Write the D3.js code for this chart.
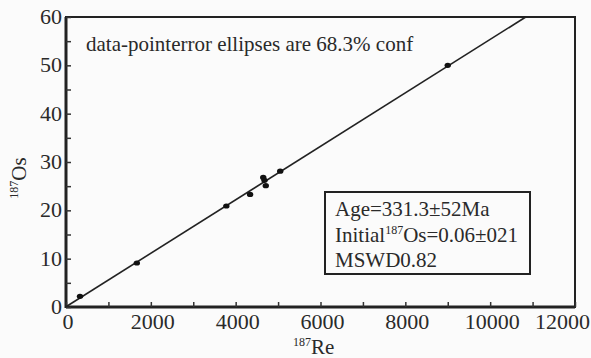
<!DOCTYPE html>
<html lang="en">
<head>
<meta charset="UTF-8">
<title>Re-Os isochron</title>
<style>
body{margin:0;background:#fbfbfb;}
svg text{font-family:"Liberation Serif","DejaVu Serif",serif;fill:#2a2a2a;}
</style>
</head>
<body>
<script src="https://d3js.org/d3.v7.min.js"></script>
<script>
var width = 591, height = 358;
// data points (187Re, 187Os)
var reVals = [330, 1670, 3780, 4340, 4650, 4680, 4710, 5050, 9000];
var osVals = [2.2, 9.1, 20.9, 23.3, 26.8, 26.2, 25.1, 28.1, 50.0];
var slope = 0.00553, intercept = 0.06;
var xTicks = [0, 2000, 4000, 6000, 8000, 10000, 12000];
var yTicks = [0, 10, 20, 30, 40, 50, 60];
var resultLines = ["Age=331.3\u00b152Ma", "Initial", "MSWD0.82"];

var padding = {left: 66, right: 16, top: 17, bottom: 51};
var svg = d3.select("body").append("svg").attr("width", width).attr("height", height)
	.attr("font-family", "Liberation Serif, DejaVu Serif, serif");

var x = d3.scaleLinear().domain([0, 12000]).range([padding.left, width - padding.right]);
var y = d3.scaleLinear().domain([0, 60]).range([height - padding.bottom, padding.top]);

//边框
svg.append("rect").attr("x", x(0)).attr("y", y(60))
	.attr("width", x(12000) - x(0)).attr("height", y(0) - y(60))
	.attr("fill", "none").attr("stroke", "#222").attr("stroke-width", 2);
svg.append("line").attr("x1", x(0)).attr("x2", x(0)).attr("y1", y(60)).attr("y2", y(0) + 1)
	.attr("stroke", "#222").attr("stroke-width", 3);
svg.append("line").attr("x1", x(0)).attr("x2", x(12000)).attr("y1", y(0)).attr("y2", y(0))
	.attr("stroke", "#222").attr("stroke-width", 3);

// x axis ticks (inward)
var xa = svg.append("g").attr("transform", "translate(0," + y(0) + ")")
	.call(d3.axisBottom(x).tickValues(d3.range(0, 12001, 1000)).tickSize(-5).tickFormat(""));
xa.select(".domain").remove();
xa.selectAll("line").attr("stroke", "#333").attr("stroke-width", 1.5);
svg.selectAll(".xlab").data(xTicks).enter().append("text")
	.attr("x", function(d, i){ return i == xTicks.length - 1 ? width - 1 : x(d) + 2; })
	.attr("y", y(0) + 22)
	.attr("text-anchor", function(d, i){ return i == xTicks.length - 1 ? "end" : "middle"; })
	.attr("font-size", 22).text(function(d){ return d; });

// y axis ticks (inward)
var ya = svg.append("g").attr("transform", "translate(" + x(0) + ",0)")
	.call(d3.axisLeft(y).tickValues(d3.range(0, 61, 5)).tickSize(-5).tickFormat(""));
ya.select(".domain").remove();
ya.selectAll("line").attr("stroke", "#333").attr("stroke-width", 1.5);
svg.selectAll(".ylab").data(yTicks).enter().append("text")
	.attr("x", x(0) - 4).attr("y", function(d){ return y(d) + 7; })
	.attr("text-anchor", "end").attr("font-size", 22).text(function(d){ return d; });

// axis titles
var xt = svg.append("text").attr("x", 293).attr("y", 354).attr("font-size", 21);
xt.append("tspan").attr("font-size", 12).attr("dy", -8).text("187");
xt.append("tspan").attr("dy", 8).text("Re");
var yt = svg.append("text").attr("transform", "translate(26,178) rotate(-90)")
	.attr("text-anchor", "middle").attr("font-size", 21);
yt.append("tspan").attr("font-size", 12).attr("dy", -8).text("187");
yt.append("tspan").attr("dy", 8).text("Os");

// isochron line
var xEnd = (60 - intercept) / slope;
svg.append("line").attr("x1", x(0)).attr("y1", y(intercept))
	.attr("x2", x(xEnd)).attr("y2", y(60))
	.attr("stroke", "#222").attr("stroke-width", 1.6);

// points
svg.selectAll(".pt").data(reVals).enter().append("ellipse")
	.attr("cx", function(d){ return x(d); })
	.attr("cy", function(d, i){ return y(osVals[i]); })
	.attr("rx", 3.2).attr("ry", 2.6).attr("fill", "#111");

// note
svg.append("text").attr("x", 86).attr("y", 51).attr("font-size", 21)
	.text("data-pointerror ellipses are 68.3% conf");

// result box
svg.append("rect").attr("x", 325).attr("y", 192).attr("width", 205).attr("height", 82)
	.attr("fill", "#fbfbfb").attr("stroke", "#222").attr("stroke-width", 2);
svg.append("text").attr("x", 335).attr("y", 216).attr("font-size", 21).text(resultLines[0]);
var t2 = svg.append("text").attr("x", 335).attr("y", 242).attr("font-size", 21);
t2.append("tspan").text(resultLines[1]);
t2.append("tspan").attr("font-size", 12).attr("dy", -8).text("187");
t2.append("tspan").attr("dy", 8).text("Os=0.06\u00b1021");
svg.append("text").attr("x", 335).attr("y", 267).attr("font-size", 21).text(resultLines[2]);
</script>
</body>
</html>
